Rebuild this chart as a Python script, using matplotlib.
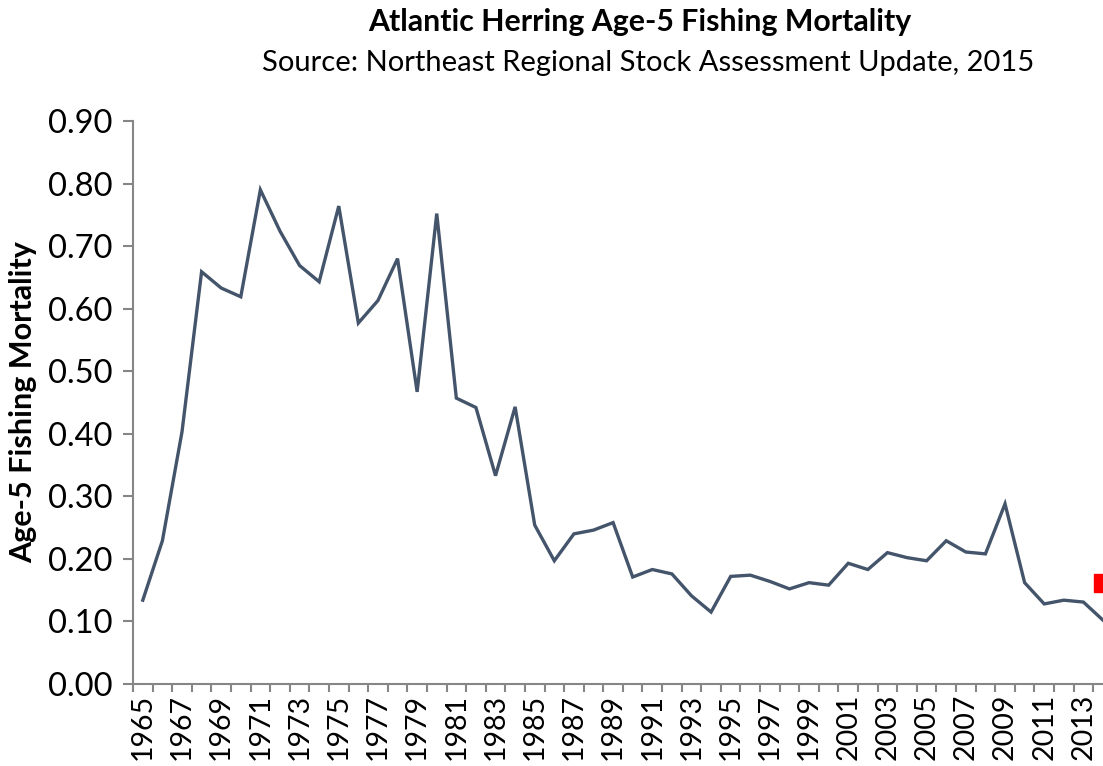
import matplotlib.pyplot as plt
import numpy as np

years = list(range(1965, 2015))
mortality = [0.134, 0.229, 0.403, 0.659, 0.633, 0.619, 0.790, 0.724, 0.669, 0.643,
             0.764, 0.577, 0.613, 0.680, 0.467, 0.752, 0.457, 0.442, 0.333, 0.443,
             0.254, 0.197, 0.240, 0.246, 0.258, 0.171, 0.183, 0.176, 0.141, 0.115,
             0.172, 0.174, 0.164, 0.152, 0.162, 0.158, 0.193, 0.183, 0.210, 0.202,
             0.197, 0.229, 0.211, 0.208, 0.288, 0.162, 0.128, 0.134, 0.131, 0.102]
target_year = [2014]
target_value = [0.162]

plt.rcParams['font.family'] = ['Lato', 'DejaVu Sans']

W, H = 1103, 766
fig = plt.figure(figsize=(W / 100, H / 100), dpi=100)
ax = fig.add_axes([133 / W, 1 - 684 / H, (1103 - 133) / W, (684 - 121) / H])

ax.plot(years, mortality, color='#44546A', linewidth=2.4, solid_joinstyle='miter')
ax.plot(target_year, target_value, marker='s', markersize=13, color='#FF0000', linestyle='none')

ax.set_xlim(1964.5, 2014)
ax.set_ylim(0, 0.9)

ax.set_yticks(np.arange(0, 0.91, 0.1))
ax.set_yticklabels([f'{v:.2f}' for v in np.arange(0, 0.91, 0.1)])
ax.set_xticks(years[::2])
ax.set_xticklabels([str(y) for y in years[::2]], rotation=90)
ax.set_xticks(np.arange(1964.5, 2014.5, 1), minor=True)

gray = '#868686'
for s in ['top', 'right']:
    ax.spines[s].set_visible(False)
for s in ['left', 'bottom']:
    ax.spines[s].set_color(gray)
    ax.spines[s].set_linewidth(1.5)

ax.tick_params(axis='y', length=7, width=1.5, color=gray, labelsize=23.5, pad=8)
ax.tick_params(axis='x', which='major', length=0, labelsize=20.5, pad=7)
ax.tick_params(axis='x', which='minor', length=6, width=1.5, color=gray)

ax.set_ylabel('Age-5 Fishing Mortality', fontsize=22, fontweight='bold')
ax.yaxis.set_label_coords((37 - 133) / 970, 0.5)

fig.text(640 / W, 1 - 22 / H, 'Atlantic Herring Age-5 Fishing Mortality',
         ha='center', va='center', fontsize=21.8, fontweight='bold')
fig.text(648 / W, 1 - 63 / H, 'Source: Northeast Regional Stock Assessment Update, 2015',
         ha='center', va='center', fontsize=21)

fig.savefig('out.png', dpi=100)
